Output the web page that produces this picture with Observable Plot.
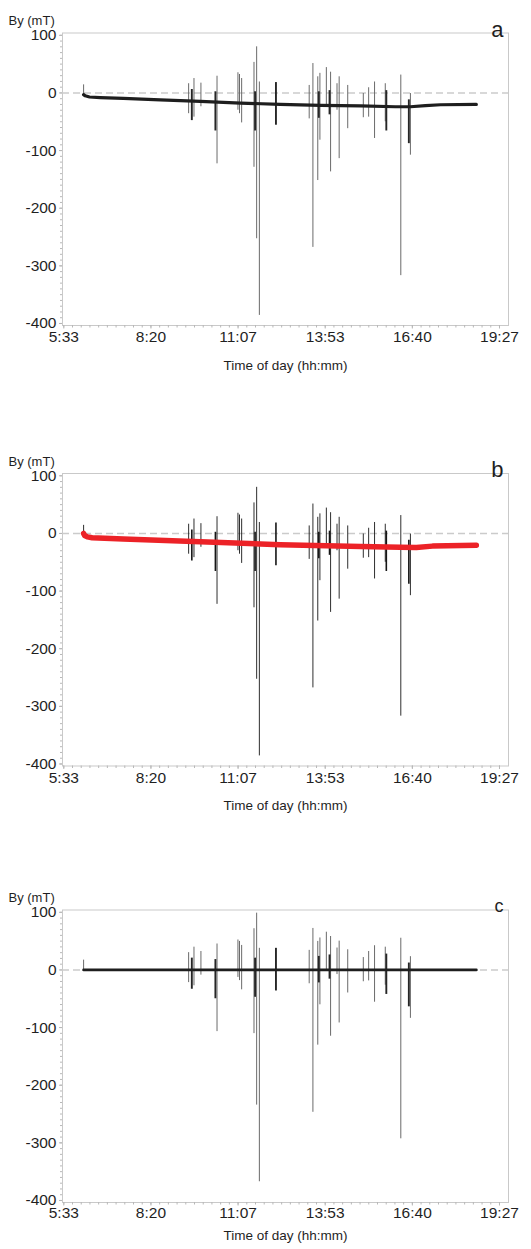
<!DOCTYPE html>
<html><head><meta charset="utf-8">
<script src="https://cdn.jsdelivr.net/npm/d3@7"></script>
<script src="https://cdn.jsdelivr.net/npm/@observablehq/plot@0.6"></script>
<style>
body{margin:0;background:#fff;}
#chart{width:531px;}
#chart svg{display:block;}
</style></head><body><div id="chart"></div>
<script>
// x axis: minutes of the day
const tickMinutes = [333.33, 500, 666.67, 833.33, 1000, 1166.67];
const tickLabels = ["5:33", "8:20", "11:07", "13:53", "16:40", "19:27"];
const yTicks = [-400, -300, -200, -100, 0, 100];
const yTickLabels = ["-400", "-300", "-200", "-100", "0", "100"];
const panelLetters = ["a", "b", "c"];

// slowly drifting record (panel a), minutes / mT
const baseTime  = [371.2, 374.3, 382.5, 403, 447.1, 517.8, 594.6, 671.5, 747.3, 824.2, 901, 967.6, 996.3, 1025, 1053.7, 1122.4];
const baseValue = [-3, -5, -7, -8, -9.5, -12, -14.5, -17.5, -20, -21.5, -22.5, -24, -24, -22, -20.5, -20];

// fitted trend (panel b, red)
const fitTime  = [371.2, 373.2, 378.4, 387.6, 447.1, 594.6, 747.3, 901, 976.9, 1007.6, 1038.4, 1122.4];
const fitValue = [0, -3.5, -6, -7.5, -9.5, -14.5, -19.5, -22.5, -24, -24.5, -22, -20.5];

// isolated excursions: time, top, bottom, local baseline
const spikeTime = [371.2, 572.1, 582.3, 595.6, 626.4, 666.4, 669.4, 673.5, 697.1, 702.2, 707.4, 802.7, 809.8, 819.1, 823.2, 835.5, 843.6, 855.9, 860, 876.4, 906.2, 916.4, 927.7, 948.2, 977.9, 996.3];
const spikeHigh = [14, 16, 25, 17, 29, 35, 32, 25, 53, 80, 19, 13, 51, 28, 34, 44, 36, 16, 28, 13, -1, 9, 19, 16, 31, -1];
const spikeLow  = [-4, -36, -42, -24, -123, -30, -36, -52, -129, -253, -386, -45, -268, -152, -82, -24, -137, -30, -114, -62, -43, -42, -79, -50, -317, -108];
const spikeBase = [-3, -14, -14.5, -15, -16, -17, -17.5, -17.5, -18.5, -18.5, -18.5, -21, -21, -21.5, -21.5, -21.5, -22, -22, -22, -22, -22.5, -23, -23, -23.5, -24, -24];

// dense bursts: time, top, bottom, local baseline
const burstTime = [578.2, 623.3, 699.2, 739.1, 821.1, 841.6, 950.2, 993.3];
const burstHigh = [6, 2, 2, 18, 2, 4, 4, -12];
const burstLow  = [-48, -66, -66, -56, -44, -38, -66, -88];
const burstBase = [-14.5, -16, -18.5, -19.5, -21.5, -22, -23.5, -24];

const base = baseTime.map((t, i) => ({t, v: baseValue[i]}));
const fit = fitTime.map((t, i) => ({t, v: fitValue[i]}));
const spikes = spikeTime.map((t, i) => ({t, hi: spikeHigh[i], lo: spikeLow[i], b: spikeBase[i]}));
const bursts = burstTime.map((t, i) => ({t, hi: burstHigh[i], lo: burstLow[i], b: burstBase[i]}));
// detrended (panel c)
const baseC = base.map(d => ({t: d.t, v: d.v - d.v}));
const spikesC = spikes.map(d => ({t: d.t, hi: d.hi - d.b, lo: d.lo - d.b}));
const burstsC = bursts.map(d => ({t: d.t, hi: d.hi - d.b, lo: d.lo - d.b}));

const xMinor = d3.range(0, 51).map(i => 333.33 + i * 16.6667);
const yMinor = d3.range(-400, 101, 10);

const FONT = "'Liberation Sans', Arial, Helvetica, sans-serif";

function panel(cfg) {
  const marks = [
    Plot.frame({stroke: "#c9c9c9"}),
    Plot.ruleY([0], {stroke: "#cbcbcb", strokeWidth: 1.4, strokeDasharray: "7,4"}),
    Plot.axisY(yMinor, {tickSize: 2, tickFormat: () => "", stroke: "#b8b8b8", label: null}),
    Plot.axisY(yTicks, {tickSize: 3, tickPadding: 3, fontSize: 15.5, stroke: "#b8b8b8", label: null,
      tickFormat: d => yTickLabels[yTicks.indexOf(d)]}),
    Plot.axisX(xMinor, {tickSize: 2.5, tickFormat: () => "", stroke: "#b8b8b8", label: null}),
    Plot.axisX(tickMinutes, {tickSize: 3.5, tickPadding: cfg.tickPad, fontSize: 15.5, stroke: "#b8b8b8", label: null,
      tickFormat: d => tickLabels[tickMinutes.indexOf(d)]}),
    Plot.text(["By (mT)"], {text: d => d, frameAnchor: "top-left", dx: -54, dy: -17, textAnchor: "start", fontSize: 13}),
    Plot.text([cfg.letter], {text: d => d, frameAnchor: "top-right", dx: -5, dy: cfg.letterDy, textAnchor: "end", fontSize: cfg.letterSize}),
    Plot.text(["Time of day (hh:mm)"], {text: d => d, frameAnchor: "bottom", dy: cfg.titleDy, fontSize: 13.5})
  ];
  if (cfg.kind === "a") {
    marks.push(
      Plot.ruleX(spikes, {x: "t", y1: "lo", y2: "hi", stroke: "#6a6a6a", strokeWidth: 1}),
      Plot.ruleX(bursts, {x: "t", y1: "lo", y2: "hi", stroke: "#262626", strokeWidth: 1.9}),
      Plot.line(base, {x: "t", y: "v", stroke: "#1e1e1e", strokeWidth: 3.2})
    );
  } else if (cfg.kind === "b") {
    marks.push(
      Plot.ruleX(spikes, {x: "t", y1: "lo", y2: "hi", stroke: "#161616", strokeWidth: 0.9}),
      Plot.ruleX(bursts, {x: "t", y1: "lo", y2: "hi", stroke: "#161616", strokeWidth: 1.6}),
      Plot.line(base, {x: "t", y: "v", stroke: "#1e1e1e", strokeWidth: 2}),
      Plot.line(fit, {x: "t", y: "v", stroke: "#ec2227", strokeWidth: 5.5})
    );
  } else {
    marks.push(
      Plot.ruleX(spikesC, {x: "t", y1: "lo", y2: "hi", stroke: "#6a6a6a", strokeWidth: 1}),
      Plot.ruleX(burstsC, {x: "t", y1: "lo", y2: "hi", stroke: "#262626", strokeWidth: 1.9}),
      Plot.line(baseC, {x: "t", y: "v", stroke: "#1e1e1e", strokeWidth: 2.8})
    );
  }
  return Plot.plot({
    width: 531,
    height: cfg.height,
    marginTop: cfg.marginTop,
    marginBottom: cfg.height - cfg.marginTop - 292.5,
    marginLeft: 62,
    marginRight: 23,
    x: {type: "linear", domain: [330.84, 1183.9]},
    y: {type: "linear", domain: [-403.5, 104]},
    style: {fontFamily: FONT, color: "#1f1f1f", background: "white", overflow: "visible"},
    marks
  });
}

const chart = document.getElementById("chart");
chart.append(panel({kind: "a", letter: panelLetters[0], letterSize: 22, letterDy: -12, height: 440, marginTop: 32.5, tickPad: 2, titleDy: 44}));
chart.append(panel({kind: "b", letter: panelLetters[1], letterSize: 22, letterDy: -12, height: 437, marginTop: 33, tickPad: 2, titleDy: 44}));
chart.append(panel({kind: "c", letter: panelLetters[2], letterSize: 18, letterDy: -11, height: 372, marginTop: 32.5, tickPad: 1, titleDy: 37}));
</script></body></html>
